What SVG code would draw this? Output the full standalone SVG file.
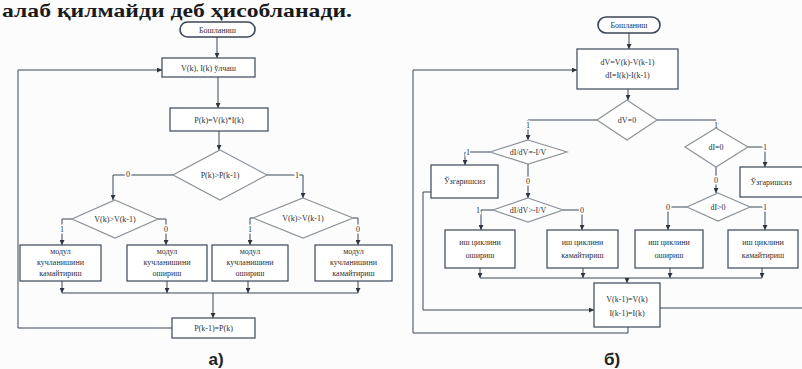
<svg xmlns="http://www.w3.org/2000/svg" width="802" height="369" viewBox="0 0 802 369">
<defs>
<marker id="a" viewBox="0 0 6 6" refX="6" refY="3" markerWidth="5" markerHeight="5" orient="auto" markerUnits="userSpaceOnUse">
<path d="M0,0 L6,3 L0,6 z" fill="#2c3440"/>
</marker>
<style>
.bx{fill:#fff;stroke:#3a4656;stroke-width:1.2}
.dm{fill:#fff;stroke:#8c929a;stroke-width:1.2}
.tm{fill:#fff;stroke:#3a4656;stroke-width:1.6}
.ln{fill:none;stroke:#3a4656;stroke-width:1}
.t{font-family:"Liberation Serif",serif;font-size:8px;fill:#2a2f38;text-anchor:middle}
.lb{font-family:"Liberation Serif",serif;font-size:8px;fill:#2a2f38;text-anchor:middle;stroke:#fff;stroke-width:3;paint-order:stroke}
.cap{font-family:"Liberation Sans",sans-serif;font-size:17px;font-weight:bold;fill:#222;text-anchor:middle}
</style>
</defs>
<rect width="802" height="369" fill="#fcfcfc"/>
<text x="2" y="17" font-family="'Liberation Serif',serif" font-size="19" font-weight="bold" fill="#1a1a1a" textLength="350" lengthAdjust="spacingAndGlyphs">алаб қилмайди деб ҳисобланади.</text>

<g id="connectors">
<path class="ln" d="M217,37 V58" marker-end="url(#a)"/>
<path class="ln" d="M218,77 V108" marker-end="url(#a)"/>
<path class="ln" d="M219,131 V150" marker-end="url(#a)"/>
<path class="ln" d="M173,175 H113 V200" marker-end="url(#a)"/>
<path class="ln" d="M267,175 H303 V198" marker-end="url(#a)"/>
<path class="ln" d="M72,219 H62 V245" marker-end="url(#a)"/>
<path class="ln" d="M158,219 H166 V245" marker-end="url(#a)"/>
<path class="ln" d="M253,218 H250 V245" marker-end="url(#a)"/>
<path class="ln" d="M353,218 H358 V245" marker-end="url(#a)"/>
<path class="ln" d="M62,281 V293" marker-end="url(#a)"/>
<path class="ln" d="M167,281 V293" marker-end="url(#a)"/>
<path class="ln" d="M248,281 V293" marker-end="url(#a)"/>
<path class="ln" d="M358,281 V293" marker-end="url(#a)"/>
<path class="ln" d="M62,293 H358"/>
<path class="ln" d="M213,293 V318" marker-end="url(#a)"/>
<path class="ln" d="M172,328 H18 V70 H162" marker-end="url(#a)"/>
<text class="lb" x="128" y="177">0</text>
<text class="lb" x="297" y="178">1</text>
<text class="lb" x="62" y="232">1</text>
<text class="lb" x="166" y="232">0</text>
<text class="lb" x="250" y="232">1</text>
<text class="lb" x="358" y="232">0</text>

<path class="ln" d="M629,33 V49" marker-end="url(#a)"/>
<path class="ln" d="M628,89 V100" marker-end="url(#a)"/>
<path class="ln" d="M597,120 H528 V140" marker-end="url(#a)"/>
<path class="ln" d="M657,120 H716 V128" marker-end="url(#a)"/>
<path class="ln" d="M490,152 H465 V165" marker-end="url(#a)"/>
<path class="ln" d="M528,163 V198" marker-end="url(#a)"/>
<path class="ln" d="M493,210 H481 V230" marker-end="url(#a)"/>
<path class="ln" d="M563,210 H582 V230" marker-end="url(#a)"/>
<path class="ln" d="M748,147 H765 V167" marker-end="url(#a)"/>
<path class="ln" d="M716,167 V193" marker-end="url(#a)"/>
<path class="ln" d="M687,207 H668 V230" marker-end="url(#a)"/>
<path class="ln" d="M750,207 H765 V230" marker-end="url(#a)"/>
<path class="ln" d="M480,268 V278" marker-end="url(#a)"/>
<path class="ln" d="M583,268 V278" marker-end="url(#a)"/>
<path class="ln" d="M670,268 V278" marker-end="url(#a)"/>
<path class="ln" d="M762,268 V278" marker-end="url(#a)"/>
<path class="ln" d="M480,278 H762"/>
<path class="ln" d="M627,278 V283" marker-end="url(#a)"/>
<path class="ln" d="M432,192 H423 V310 H594" marker-end="url(#a)"/>
<path class="ln" d="M660,308 H802"/>
<path class="ln" d="M628,327 V333 H413 V70 H577" marker-end="url(#a)"/>
<text class="lb" x="528" y="128">1</text>
<text class="lb" x="716" y="128">1</text>
<text class="lb" x="468" y="155">1</text>
<text class="lb" x="528" y="184">0</text>
<text class="lb" x="478" y="213">1</text>
<text class="lb" x="582" y="213">0</text>
<text class="lb" x="765" y="150">1</text>
<text class="lb" x="716" y="183">0</text>
<text class="lb" x="668" y="210">0</text>
<text class="lb" x="765" y="210">1</text>
</g>

<g id="a-start"><rect class="tm" x="180" y="22" width="75" height="15" rx="7.5"/><text class="t" x="217.5" y="32.5">Бошланиш</text></g>
<g id="a-measure"><rect class="bx" x="162" y="58" width="93" height="19"/><text class="t" x="208.5" y="70.5">V(k), I(k) ўлчаш</text></g>
<g id="a-power"><rect class="bx" x="170" y="108" width="98" height="23"/><text class="t" x="219" y="122.5">P(k)=V(k)*I(k)</text></g>
<g id="a-dec1"><polygon class="dm" points="220,150 267,175 220,200 173,175"/><text class="t" x="220" y="178">P(k)&gt;P(k-1)</text></g>
<g id="a-dec2"><polygon class="dm" points="115,200 158,219 115,238 72,219"/><text class="t" x="115" y="222">V(k)&gt;V(k-1)</text></g>
<g id="a-dec3"><polygon class="dm" points="303,198 353,218 303,238 253,218"/><text class="t" x="303" y="221">V(k)&gt;V(k-1)</text></g>
<g id="a-box1"><rect class="bx" x="20" y="245" width="81" height="36"/><text class="t" x="60.5" y="254">модул</text><text class="t" x="60.5" y="265">кучланишини</text><text class="t" x="60.5" y="276">камайтириш</text></g>
<g id="a-box2"><rect class="bx" x="127" y="245" width="80" height="36"/><text class="t" x="167" y="254">модул</text><text class="t" x="167" y="265">кучланишини</text><text class="t" x="167" y="276">ошириш</text></g>
<g id="a-box3"><rect class="bx" x="212" y="245" width="76" height="36"/><text class="t" x="250" y="254">модул</text><text class="t" x="250" y="265">кучланишини</text><text class="t" x="250" y="276">ошириш</text></g>
<g id="a-box4"><rect class="bx" x="315" y="245" width="77" height="36"/><text class="t" x="353.5" y="254">модул</text><text class="t" x="353.5" y="265">кучланишини</text><text class="t" x="353.5" y="276">камайтириш</text></g>
<g id="a-update"><rect class="bx" x="172" y="318" width="83" height="20"/><text class="t" x="213.5" y="331">P(k-1)=P(k)</text></g>
<text class="cap" x="216" y="365">а)</text>

<g id="b-start"><rect class="tm" x="598" y="17" width="62" height="16" rx="8"/><text class="t" x="629" y="28">Бошланиш</text></g>
<g id="b-diff"><rect class="bx" x="577" y="49" width="101" height="40"/><text class="t" x="627.5" y="65">dV=V(k)-V(k-1)</text><text class="t" x="627.5" y="78">dI=I(k)-I(k-1)</text></g>
<g id="b-dv0"><polygon class="dm" points="627,100 657,120 627,140 597,120"/><text class="t" x="627" y="123">dV=0</text></g>
<g id="b-inc1"><polygon class="dm" points="528,140 567,152 528,164 490,152"/><text class="t" x="528" y="155">dI/dV=-I/V</text></g>
<g id="b-inc2"><polygon class="dm" points="528,198 563,210 528,222 493,210"/><text class="t" x="528" y="213">dI/dV&gt;-I/V</text></g>
<g id="b-nc1"><rect class="bx" x="431" y="165" width="67" height="33"/><text class="t" x="464.5" y="184">Ўзгаришсиз</text></g>
<g id="b-di0"><polygon class="dm" points="716,128 748,147 716,167 685,147"/><text class="t" x="716" y="150">dI=0</text></g>
<g id="b-di1"><polygon class="dm" points="718,193 750,207 718,221 687,207"/><text class="t" x="718" y="210">dI&gt;0</text></g>
<g id="b-nc2"><rect class="bx" x="740" y="167" width="66" height="30"/><text class="t" x="771" y="185">Ўзгаришсиз</text></g>
<g id="b-boxA"><rect class="bx" x="445" y="230" width="70" height="38"/><text class="t" x="480" y="245">иш циклини</text><text class="t" x="480" y="258">ошириш</text></g>
<g id="b-boxB"><rect class="bx" x="547" y="230" width="71" height="38"/><text class="t" x="582.5" y="245">иш циклини</text><text class="t" x="582.5" y="258">камайтириш</text></g>
<g id="b-boxC"><rect class="bx" x="635" y="230" width="68" height="38"/><text class="t" x="669" y="245">иш циклини</text><text class="t" x="669" y="258">ошириш</text></g>
<g id="b-boxD"><rect class="bx" x="728" y="230" width="70" height="38"/><text class="t" x="763" y="245">иш циклини</text><text class="t" x="763" y="258">камайтириш</text></g>
<g id="b-update"><rect class="bx" x="594" y="283" width="66" height="44"/><text class="t" x="627" y="302">V(k-1)=V(k)</text><text class="t" x="627" y="316">I(k-1)=I(k)</text></g>
<text class="cap" x="612" y="365">б)</text>
</svg>
